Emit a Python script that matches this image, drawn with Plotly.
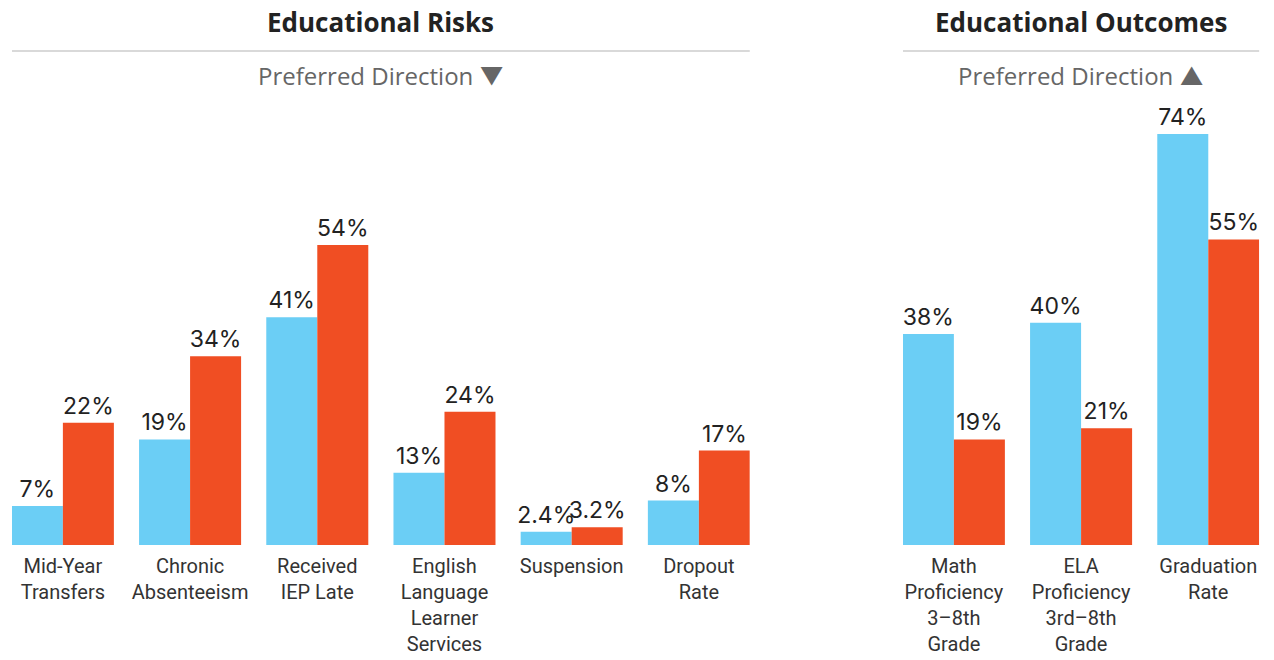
import plotly.graph_objects as go

# Educational risks (lower is better)
risk_labels = ["Mid-Year<br>Transfers", "Chronic<br>Absenteeism", "Received<br>IEP Late",
               "English<br>Language<br>Learner<br>Services", "Suspension", "Dropout<br>Rate"]
risk_blue = [7, 19, 41, 13, 2.4, 8]
risk_red = [22, 34, 54, 24, 3.2, 17]

# Educational outcomes (higher is better)
outcome_labels = ["Math<br>Proficiency<br>3–8th<br>Grade", "ELA<br>Proficiency<br>3rd–8th<br>Grade",
                  "Graduation<br>Rate"]
outcome_blue = [38, 40, 74]
outcome_red = [19, 21, 55]

BLUE = "#6BCEF5"
RED = "#F04E23"
W, H = 1274, 660

def pct(vals):
    return [f"{v:g}%" for v in vals]

label_font = dict(family="Inter, Roboto, sans-serif", size=23, color="#222222")

fig = go.Figure()
for xa, ya, cats, blue, red in [("x", "y", risk_labels, risk_blue, risk_red),
                                ("x2", "y2", outcome_labels, outcome_blue, outcome_red)]:
    for vals, col in [(blue, BLUE), (red, RED)]:
        fig.add_trace(go.Bar(
            x=cats, y=vals, xaxis=xa, yaxis=ya, marker=dict(color=col, line=dict(width=0)),
            text=pct(vals), textposition="outside", textfont=label_font,
            constraintext="none", cliponaxis=False, showlegend=False, hoverinfo="skip"))

# pixel layout of the two panels
base_px = 545
ymax = 80
px_per_unit = 5.555
top_px = base_px - ymax * px_per_unit
ydom = [(H - base_px) / H, (H - top_px) / H]

step = 127.2
left_dom = [12 / W, (12 + 5.8 * step) / W]
right_dom = [903 / W, (903 + 2.8 * step) / W]

tick_font = dict(family="Roboto, sans-serif", size=20, color="#333333")
axis_common = dict(type="category", showgrid=False, zeroline=False, showline=False,
                   ticks="outside", ticklen=3, tickcolor="rgba(0,0,0,0)",
                   tickfont=tick_font, fixedrange=True, automargin=False)

fig.update_layout(
    width=W, height=H,
    margin=dict(l=0, r=0, t=0, b=0, pad=0, autoexpand=False),
    paper_bgcolor="white", plot_bgcolor="white",
    barmode="group", bargap=0.198, bargroupgap=0,
    showlegend=False,
    xaxis=dict(domain=left_dom, range=[-0.4, 5.4], anchor="y", **axis_common),
    xaxis2=dict(domain=right_dom, range=[-0.4, 2.4], anchor="y2", **axis_common),
    yaxis=dict(domain=ydom, range=[0, ymax], visible=False, anchor="x", automargin=False),
    yaxis2=dict(domain=ydom, range=[0, ymax], visible=False, anchor="x2", automargin=False),
)

title_font = dict(family="Open Sans, Inter, sans-serif", size=26, color="#222222")
sub_font = dict(family="Open Sans, Inter, sans-serif", size=24, color="#666666")

for xr, title, arrow in [("x domain", "Educational Risks", "▼"),
                         ("x2 domain", "Educational Outcomes", "▲")]:
    fig.add_annotation(x=0.5, xref=xr, y=1 - 22 / H, yref="paper", text=f"<b>{title}</b>",
                       showarrow=False, font=title_font, xanchor="center", yanchor="middle")
    fig.add_annotation(x=0.5, xref=xr, y=1 - 76 / H, yref="paper",
                       text=f"Preferred Direction {arrow}", showarrow=False, font=sub_font,
                       xanchor="center", yanchor="middle")
    fig.add_shape(type="line", xref=xr, x0=0, x1=1, yref="paper",
                  y0=1 - 51 / H, y1=1 - 51 / H, line=dict(color="#CCCCCC", width=1.5))

fig.write_html("out.html")
